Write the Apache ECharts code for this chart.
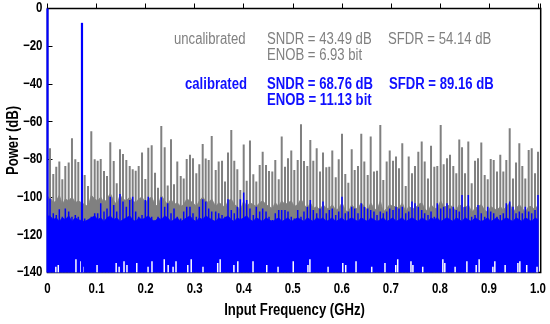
<!DOCTYPE html>
<html><head><meta charset="utf-8">
<script src="https://cdn.jsdelivr.net/npm/echarts@6/dist/echarts.min.js"></script>
<style>html,body{margin:0;padding:0;background:#fff}#c{width:550px;height:324px}</style>
</head><body><div id="c"></div>
<script>
const xTickValues = [0,0.1,0.2,0.3,0.4,0.5,0.6,0.7,0.8,0.9,1.0];
const xTickLabels = ['0','0.1','0.2','0.3','0.4','0.5','0.6','0.7','0.8','0.9','1.0'];
const yTickValues = [-140,-120,-100,-80,-60,-40,-20,0];
const yTickLabels = ['\u2212140','\u2212120','\u2212100','\u221280','\u221260','\u221240','\u221220','0'];

const dcPower = 0;
const fundFreq = 0.0703;
const fundPower = -7.6;

const spurFreq = [
0.0051,0.0118,0.0179,0.0241,0.0302,0.0363,0.0432,0.0499,0.0567,0.0628,
0.0758,0.0826,0.0893,0.0962,0.1023,0.1085,0.1152,0.1213,0.1280,0.1350,
0.1411,0.1478,0.1539,0.1607,0.1676,0.1737,0.1798,0.1859,0.1927,0.1994,
0.2055,0.2124,0.2192,0.2253,0.2320,0.2389,0.2451,0.2518,0.2579,0.2646,
0.2716,0.2777,0.2838,0.2905,0.2966,0.3034,0.3095,0.3164,0.3225,0.3286,
0.3348,0.3429,0.3490,0.3558,0.3619,0.3680,0.3747,0.3808,0.3870,0.3931,
0.4000,0.4061,0.4128,0.4196,0.4257,0.4326,0.4387,0.4455,0.4516,0.4583,
0.4644,0.4714,0.4775,0.4842,0.4903,0.4970,0.5032,0.5101,0.5168,0.5229,
0.5297,0.5358,0.5419,0.5488,0.5556,0.5617,0.5684,0.5745,0.5806,0.5876,
0.5937,0.6004,0.6071,0.6133,0.6202,0.6263,0.6330,0.6397,0.6459,0.6528,
0.6589,0.6656,0.6718,0.6785,0.6846,0.6915,0.6977,0.7044,0.7105,0.7166,
0.7233,0.7303,0.7364,0.7431,0.7492,0.7560,0.7629,0.7690,0.7757,0.7819,
0.7886,0.7947,0.8016,0.8077,0.8145,0.8206,0.8273,0.8334,0.8395,0.8451,
0.8512,0.8579,0.8648,0.8716,0.8777,0.8844,0.8913,0.8975,0.9036,0.9097,
0.9164,0.9231,0.9293,0.9354,0.9423,0.9490,0.9552,0.9619,0.9680,0.9741,
0.9810,0.9872,0.9939,1.0000];

const graySpur = [
-74.1,-87.8,-83.9,-81.2,-90.6,-83.5,-81.7,-68.8,-80.0,-81.4,
-88.3,-94.1,-65.1,-80.0,-80.7,-79.8,-86.2,-88.8,-70.9,-80.9,
-92.7,-74.6,-77.1,-80.3,-83.5,-85.3,-86.0,-83.5,-76.4,-90.4,
-73.8,-72.5,-87.1,-95.0,-62.3,-73.6,-93.9,-69.3,-93.2,-81.2,
-88.8,-90.1,-79.8,-77.6,-79.4,-87.4,-82.6,-71.8,-79.6,-80.3,
-67.6,-85.6,-81.2,-80.7,-91.8,-76.4,-64.4,-80.7,-85.3,-96.3,
-72.1,-91.3,-70.0,-87.9,-91.8,-83.0,-75.9,-83.0,-86.2,-86.5,
-80.3,-90.6,-67.9,-83.9,-79.4,-75.3,-85.6,-80.3,-61.4,-80.9,
-83.5,-69.7,-80.7,-74.1,-86.5,-76.4,-84.2,-83.9,-75.3,-89.5,
-80.0,-66.4,-87.8,-92.4,-74.6,-85.6,-83.5,-66.4,-81.2,-88.3,
-67.9,-86.5,-86.0,-61.8,-91.0,-81.2,-75.3,-80.7,-78.5,-84.7,
-71.5,-94.1,-78.5,-87.4,-83.5,-75.9,-70.5,-81.2,-90.1,-72.8,
-83.9,-83.5,-61.8,-82.6,-79.4,-77.6,-83.5,-87.4,-69.5,-73.6,
-87.4,-70.5,-92.7,-80.7,-79.4,-71.1,-88.3,-90.6,-79.8,-80.3,
-86.5,-77.6,-86.5,-80.3,-63.5,-90.1,-81.7,-71.5,-83.5,-90.1,
-75.0,-74.1,-87.4,-75.9];

const grayFloor = [
-100,-103,-102,-99,-104,-101,-102,-100,-103,-102,
-104,-105,-99,-101,-102,-100,-103,-101,-98,-102,
-104,-99,-101,-102,-100,-102,-103,-101,-100,-103,
-101,-100,-104,-105,-99,-102,-104,-101,-104,-103,
-105,-104,-101,-102,-103,-105,-102,-100,-102,-103,
-101,-105,-103,-104,-106,-102,-101,-104,-105,-107,
-102,-105,-103,-104,-105,-103,-102,-104,-105,-106,
-103,-105,-102,-104,-103,-102,-105,-104,-101,-104,
-106,-103,-106,-105,-107,-104,-106,-106,-104,-107,
-106,-103,-107,-108,-104,-106,-106,-103,-105,-107,
-103,-106,-107,-102,-108,-106,-104,-105,-105,-106,
-103,-108,-105,-106,-106,-104,-103,-106,-108,-104,
-106,-106,-102,-105,-105,-104,-106,-107,-104,-105,
-106,-104,-108,-106,-105,-104,-107,-108,-105,-106,
-107,-105,-107,-105,-103,-108,-106,-104,-106,-108,
-105,-105,-107,-104];

const blueSpur = [
-100.7,-108.6,-109.5,-106.5,-110.4,-106.0,-107.7,-110.4,-109.5,-110.4,
-111.3,-112.2,-110.4,-108.6,-108.6,-103.3,-107.7,-106.0,-99.8,-104.2,
-107.7,-98.4,-102.4,-105.1,-101.5,-99.8,-107.7,-110.4,-109.5,-101.5,
-99.8,-110.4,-112.2,-110.4,-100.1,-105.1,-103.3,-108.6,-106.0,-110.4,
-111.3,-107.7,-105.1,-105.1,-108.6,-110.4,-105.1,-101.2,-102.4,-106.0,
-107.7,-107.7,-108.6,-109.5,-110.4,-101.2,-106.9,-108.6,-105.1,-101.2,
-97.6,-101.5,-106.0,-109.5,-105.1,-107.7,-106.0,-107.7,-110.4,-112.2,
-108.6,-106.9,-106.9,-106.9,-107.7,-110.4,-111.3,-106.9,-110.4,-107.7,
-105.1,-101.5,-106.9,-108.6,-106.0,-102.4,-108.6,-106.9,-106.0,-109.5,
-107.7,-99.8,-108.6,-107.7,-105.1,-106.0,-108.6,-103.3,-105.1,-106.0,
-106.9,-107.7,-109.5,-107.7,-108.6,-107.7,-106.0,-106.9,-105.1,-106.0,
-105.1,-108.6,-107.7,-102.4,-103.3,-105.1,-106.9,-108.6,-109.5,-107.7,
-110.4,-103.3,-106.0,-105.1,-103.3,-106.0,-105.1,-106.9,-107.7,-98.9,
-105.1,-98.9,-110.4,-109.5,-104.2,-108.6,-110.4,-105.1,-107.7,-108.6,
-110.4,-109.5,-108.6,-103.3,-102.4,-105.1,-108.6,-107.7,-108.6,-105.1,
-107.7,-108.6,-106.9,-98.9];

const blueFloor = [
-110,-112,-111,-113,-111,-112,-110,-113,-111,-112,
-113,-112,-111,-110,-112,-111,-113,-111,-110,-112,
-111,-113,-112,-111,-110,-112,-113,-111,-112,-111,
-110,-112,-113,-111,-112,-110,-111,-113,-112,-111,
-113,-112,-111,-110,-112,-113,-111,-112,-110,-111,
-112,-113,-111,-112,-111,-110,-112,-113,-111,-112,
-111,-110,-112,-113,-111,-112,-113,-111,-112,-113,
-112,-111,-113,-112,-111,-113,-112,-111,-112,-113,
-111,-112,-113,-111,-112,-111,-113,-112,-111,-113,
-112,-111,-113,-112,-111,-112,-113,-111,-112,-113,
-111,-112,-113,-112,-111,-113,-112,-111,-113,-112,
-111,-113,-112,-111,-112,-113,-111,-112,-113,-111,
-112,-111,-113,-112,-111,-112,-113,-111,-112,-113,
-111,-112,-113,-111,-112,-113,-112,-111,-113,-112,
-111,-113,-112,-111,-112,-113,-111,-112,-113,-111,
-112,-113,-111,-112];

const notchFreq = [0.017,0.022,0.058,0.068,0.072,0.101,0.140,0.146,0.156,0.162,
0.182,0.205,0.213,0.238,0.246,0.256,0.262,0.286,0.293,0.317,
0.347,0.352,0.380,0.388,0.419,0.447,0.470,0.501,0.531,0.535,
0.572,0.602,0.608,0.629,0.661,0.688,0.710,0.714,0.741,0.745,
0.765,0.806,0.810,0.831,0.855,0.874,0.880,0.908,0.912,0.933,
0.959,0.963,0.977,0.998];
const notchTop = [-137,-136,-133,-134,-137,-136,-135,-137,-134,-136,
-135,-137,-134,-133,-136,-137,-134,-136,-133,-137,
-135,-133,-136,-134,-134,-136,-137,-134,-136,-133,
-137,-135,-136,-134,-137,-135,-136,-133,-134,-136,
-137,-133,-135,-137,-134,-136,-133,-137,-134,-136,
-135,-134,-136,-137];

const Y_MIN = -140, Y_MAX = 0, X_MIN = 0, X_MAX = 1.0055;
const GRAY = '#808080', BLUE = '#0000ff', TBLUE = '#1010ff';
const FONT = "'Liberation Sans',Arial,sans-serif";
const NARROW = 0.82;

function pairs(xs, ys){ return xs.map((x,i)=>[x, ys[i]]); }
function vline(color, width){
  return function(params, api){
    const x = api.value(0), y = api.value(1);
    const p0 = api.coord([x, Y_MIN]);
    const p1 = api.coord([x, y]);
    return {type:'line', shape:{x1:p0[0], y1:p0[1], x2:p1[0], y2:p1[1]},
            style:{stroke:color, lineWidth:width}};
  };
}
function area(data, color, z){
  return {type:'line', z:z, data:data, showSymbol:false, symbol:'none', silent:true,
    lineStyle:{width:0.8, color:color}, areaStyle:{origin:'start', color:color, opacity:1},
    animation:false};
}
function lines(data, color, width, z, clip){
  return {type:'custom', z:z, renderItem:vline(color, width), data:data, encode:{x:0,y:1}, clip:clip, silent:true};
}

const chart = echarts.init(document.getElementById('c'), null, {renderer:'canvas'});
chart.setOption({
  animation:false,
  grid:{left:47.5, right:9.3, top:8.5, bottom:51.5, show:true, borderColor:'#000', borderWidth:1.5, backgroundColor:'#fff'},
  xAxis:{type:'value', min:X_MIN, max:X_MAX, interval:0.1,
    axisLine:{show:false}, splitLine:{show:false},
    axisTick:{inside:true, length:5, lineStyle:{color:'#000'}},
    axisLabel:{show:false}
  },
  yAxis:{type:'value', min:Y_MIN, max:Y_MAX, interval:20,
    axisLine:{show:false}, splitLine:{show:false},
    axisTick:{inside:true, length:5, lineStyle:{color:'#000'}},
    axisLabel:{show:false}
  },
  series:[
    area([[0,grayFloor[0]]].concat(pairs(spurFreq, grayFloor)), GRAY, 2),
    lines(pairs(spurFreq, graySpur), GRAY, 2, 3, true),
    area([[0,blueFloor[0]]].concat(pairs(spurFreq, blueFloor)), BLUE, 4),
    lines(pairs(spurFreq, blueSpur), BLUE, 1.5, 5, true),
    lines(pairs(notchFreq, notchTop), '#ffffff', 1.5, 6, true),
    lines([[0, dcPower],[fundFreq, fundPower]], BLUE, 2.2, 7, false)
  ]
});

// Text drawn as real text, horizontally condensed to mimic the narrow face of the original.
function txt(text, x, y, opt){
  return {type:'text', x:x, y:y, z:100, scaleX:NARROW, rotation:opt.rot||0, silent:true,
    style:{text:text, fill:opt.color||'#000', font:(opt.weight||'bold')+' '+(opt.size||14)+'px '+FONT,
      align:opt.align||'left', verticalAlign:opt.va||'top'}};
}
const g = [];
const xAxisY = chart.convertToPixel({yAxisIndex:0}, Y_MIN);
const yAxisX = chart.convertToPixel({xAxisIndex:0}, X_MIN);
xTickValues.forEach((v,i)=>{
  g.push(txt(xTickLabels[i], chart.convertToPixel({xAxisIndex:0}, v), xAxisY + 16.5, {align:'center', va:'middle', size:14}));
});
yTickValues.forEach((v,i)=>{
  g.push(txt(yTickLabels[i], yAxisX - 5, chart.convertToPixel({yAxisIndex:0}, v), {align:'right', va:'middle', size:14}));
});
g.push(txt('Input Frequency (GHz)', 294.5, xAxisY + 38, {align:'center', va:'middle', size:16}));
g.push(txt('Power (dB)', 13.5, 140.5, {align:'center', va:'middle', size:16, rot:Math.PI/2}));

const annotations = [
  {text:'uncalibrated', x:174, y:32, color:GRAY, w:'normal'},
  {text:'SNDR = 43.49 dB', x:267, y:32, color:GRAY, w:'normal'},
  {text:'SFDR = 54.14 dB', x:388, y:32, color:GRAY, w:'normal'},
  {text:'ENOB = 6.93 bit', x:267, y:47.5, color:GRAY, w:'normal'},
  {text:'calibrated', x:185, y:77, color:TBLUE, w:'bold'},
  {text:'SNDR = 68.76 dB', x:267, y:77, color:TBLUE, w:'bold'},
  {text:'SFDR = 89.16 dB', x:389, y:77, color:TBLUE, w:'bold'},
  {text:'ENOB = 11.13 bit', x:267, y:93, color:TBLUE, w:'bold'}
];
annotations.forEach(a=>g.push(txt(a.text, a.x, a.y, {color:a.color, weight:a.w, size:16, va:'top'})));
chart.setOption({graphic:g});
</script></body></html>
